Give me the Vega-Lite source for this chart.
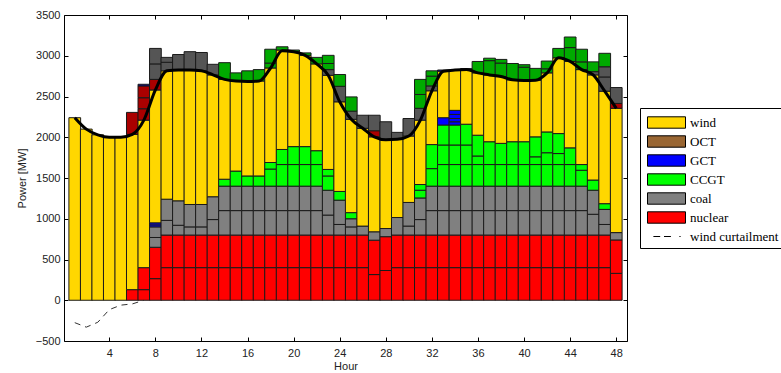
{
"$schema": "https://vega.github.io/schema/vega-lite/v6.json",
"width": 563, "height": 326,
"autosize": "none",
"padding": {"left": 64, "top": 15, "right": 154, "bottom": 32},
"config": {"view": {"stroke": "#000", "strokeWidth": 1}, "font": "Liberation Sans"},
"datasets": {
"gen": [
{"h":1,"t":"wind","lo":0,"hi":2240},
{"h":2,"t":"wind","lo":0,"hi":2100},
{"h":3,"t":"wind","lo":0,"hi":2030},
{"h":4,"t":"wind","lo":0,"hi":2000},
{"h":5,"t":"wind","lo":0,"hi":2000},
{"h":6,"t":"nuclear","lo":0,"hi":130},{"h":6,"t":"wind","lo":130,"hi":2035},{"h":6,"t":"nuclear reserve","lo":2035,"hi":2305},
{"h":7,"t":"nuclear","lo":0,"hi":130},{"h":7,"t":"nuclear","lo":130,"hi":400},{"h":7,"t":"wind","lo":400,"hi":2210},{"h":7,"t":"nuclear reserve","lo":2210,"hi":2350},{"h":7,"t":"nuclear reserve","lo":2350,"hi":2485},{"h":7,"t":"nuclear reserve","lo":2485,"hi":2630},{"h":7,"t":"GCT reserve","lo":2630,"hi":2650},
{"h":8,"t":"nuclear","lo":0,"hi":265},{"h":8,"t":"nuclear","lo":265,"hi":650},{"h":8,"t":"coal","lo":650,"hi":770},{"h":8,"t":"coal","lo":770,"hi":900},{"h":8,"t":"GCT","lo":900,"hi":925},{"h":8,"t":"GCT","lo":925,"hi":950},{"h":8,"t":"wind","lo":950,"hi":2580},{"h":8,"t":"nuclear reserve","lo":2580,"hi":2710},{"h":8,"t":"coal reserve","lo":2710,"hi":2900},{"h":8,"t":"coal reserve","lo":2900,"hi":3090},
{"h":9,"t":"nuclear","lo":0,"hi":400},{"h":9,"t":"nuclear","lo":400,"hi":800},{"h":9,"t":"coal","lo":800,"hi":980},{"h":9,"t":"coal","lo":980,"hi":1240},{"h":9,"t":"wind","lo":1240,"hi":2815},{"h":9,"t":"coal reserve","lo":2815,"hi":2920},{"h":9,"t":"coal reserve","lo":2920,"hi":2980},
{"h":10,"t":"nuclear","lo":0,"hi":400},{"h":10,"t":"nuclear","lo":400,"hi":800},{"h":10,"t":"coal","lo":800,"hi":920},{"h":10,"t":"coal","lo":920,"hi":1220},{"h":10,"t":"wind","lo":1220,"hi":2825},{"h":10,"t":"coal reserve","lo":2825,"hi":3015},
{"h":11,"t":"nuclear","lo":0,"hi":400},{"h":11,"t":"nuclear","lo":400,"hi":800},{"h":11,"t":"coal","lo":800,"hi":900},{"h":11,"t":"coal","lo":900,"hi":1175},{"h":11,"t":"wind","lo":1175,"hi":2825},{"h":11,"t":"coal reserve","lo":2825,"hi":3050},
{"h":12,"t":"nuclear","lo":0,"hi":400},{"h":12,"t":"nuclear","lo":400,"hi":800},{"h":12,"t":"coal","lo":800,"hi":900},{"h":12,"t":"coal","lo":900,"hi":1175},{"h":12,"t":"wind","lo":1175,"hi":2815},{"h":12,"t":"coal reserve","lo":2815,"hi":3040},
{"h":13,"t":"nuclear","lo":0,"hi":400},{"h":13,"t":"nuclear","lo":400,"hi":800},{"h":13,"t":"coal","lo":800,"hi":990},{"h":13,"t":"coal","lo":990,"hi":1270},{"h":13,"t":"wind","lo":1270,"hi":2765},{"h":13,"t":"coal reserve","lo":2765,"hi":2895},
{"h":14,"t":"nuclear","lo":0,"hi":400},{"h":14,"t":"nuclear","lo":400,"hi":800},{"h":14,"t":"coal","lo":800,"hi":1100},{"h":14,"t":"coal","lo":1100,"hi":1400},{"h":14,"t":"CCGT","lo":1400,"hi":1485},{"h":14,"t":"wind","lo":1485,"hi":2710},{"h":14,"t":"CCGT reserve","lo":2710,"hi":2915},
{"h":15,"t":"nuclear","lo":0,"hi":400},{"h":15,"t":"nuclear","lo":400,"hi":800},{"h":15,"t":"coal","lo":800,"hi":1100},{"h":15,"t":"coal","lo":1100,"hi":1400},{"h":15,"t":"CCGT","lo":1400,"hi":1585},{"h":15,"t":"wind","lo":1585,"hi":2690},{"h":15,"t":"CCGT reserve","lo":2690,"hi":2790},
{"h":16,"t":"nuclear","lo":0,"hi":400},{"h":16,"t":"nuclear","lo":400,"hi":800},{"h":16,"t":"coal","lo":800,"hi":1100},{"h":16,"t":"coal","lo":1100,"hi":1400},{"h":16,"t":"CCGT","lo":1400,"hi":1525},{"h":16,"t":"wind","lo":1525,"hi":2690},{"h":16,"t":"CCGT reserve","lo":2690,"hi":2815},
{"h":17,"t":"nuclear","lo":0,"hi":400},{"h":17,"t":"nuclear","lo":400,"hi":800},{"h":17,"t":"coal","lo":800,"hi":1100},{"h":17,"t":"coal","lo":1100,"hi":1400},{"h":17,"t":"CCGT","lo":1400,"hi":1525},{"h":17,"t":"wind","lo":1525,"hi":2690},{"h":17,"t":"CCGT reserve","lo":2690,"hi":2830},
{"h":18,"t":"nuclear","lo":0,"hi":400},{"h":18,"t":"nuclear","lo":400,"hi":800},{"h":18,"t":"coal","lo":800,"hi":1100},{"h":18,"t":"coal","lo":1100,"hi":1400},{"h":18,"t":"CCGT","lo":1400,"hi":1610},{"h":18,"t":"CCGT","lo":1610,"hi":1690},{"h":18,"t":"wind","lo":1690,"hi":2850},{"h":18,"t":"CCGT reserve","lo":2850,"hi":2910},{"h":18,"t":"CCGT reserve","lo":2910,"hi":3080},
{"h":19,"t":"nuclear","lo":0,"hi":400},{"h":19,"t":"nuclear","lo":400,"hi":800},{"h":19,"t":"coal","lo":800,"hi":1100},{"h":19,"t":"coal","lo":1100,"hi":1400},{"h":19,"t":"CCGT","lo":1400,"hi":1665},{"h":19,"t":"CCGT","lo":1665,"hi":1850},{"h":19,"t":"wind","lo":1850,"hi":3070},{"h":19,"t":"CCGT reserve","lo":3070,"hi":3110},
{"h":20,"t":"nuclear","lo":0,"hi":400},{"h":20,"t":"nuclear","lo":400,"hi":800},{"h":20,"t":"coal","lo":800,"hi":1100},{"h":20,"t":"coal","lo":1100,"hi":1400},{"h":20,"t":"CCGT","lo":1400,"hi":1665},{"h":20,"t":"CCGT","lo":1665,"hi":1885},{"h":20,"t":"wind","lo":1885,"hi":3050},{"h":20,"t":"CCGT reserve","lo":3050,"hi":3070},
{"h":21,"t":"nuclear","lo":0,"hi":400},{"h":21,"t":"nuclear","lo":400,"hi":800},{"h":21,"t":"coal","lo":800,"hi":1100},{"h":21,"t":"coal","lo":1100,"hi":1400},{"h":21,"t":"CCGT","lo":1400,"hi":1665},{"h":21,"t":"CCGT","lo":1665,"hi":1885},{"h":21,"t":"wind","lo":1885,"hi":3005},{"h":21,"t":"CCGT reserve","lo":3005,"hi":3035},
{"h":22,"t":"nuclear","lo":0,"hi":400},{"h":22,"t":"nuclear","lo":400,"hi":800},{"h":22,"t":"coal","lo":800,"hi":1100},{"h":22,"t":"coal","lo":1100,"hi":1400},{"h":22,"t":"CCGT","lo":1400,"hi":1665},{"h":22,"t":"CCGT","lo":1665,"hi":1835},{"h":22,"t":"wind","lo":1835,"hi":2900},{"h":22,"t":"CCGT reserve","lo":2900,"hi":2980},
{"h":23,"t":"nuclear","lo":0,"hi":400},{"h":23,"t":"nuclear","lo":400,"hi":800},{"h":23,"t":"coal","lo":800,"hi":1045},{"h":23,"t":"coal","lo":1045,"hi":1350},{"h":23,"t":"CCGT","lo":1350,"hi":1525},{"h":23,"t":"CCGT","lo":1525,"hi":1605},{"h":23,"t":"wind","lo":1605,"hi":2760},{"h":23,"t":"coal reserve","lo":2760,"hi":2830},{"h":23,"t":"CCGT reserve","lo":2830,"hi":2905},{"h":23,"t":"CCGT reserve","lo":2905,"hi":3005},
{"h":24,"t":"nuclear","lo":0,"hi":400},{"h":24,"t":"nuclear","lo":400,"hi":800},{"h":24,"t":"coal","lo":800,"hi":930},{"h":24,"t":"coal","lo":930,"hi":1228},{"h":24,"t":"CCGT","lo":1228,"hi":1335},{"h":24,"t":"wind","lo":1335,"hi":2435},{"h":24,"t":"coal reserve","lo":2435,"hi":2625},{"h":24,"t":"CCGT reserve","lo":2625,"hi":2770},
{"h":25,"t":"nuclear","lo":0,"hi":400},{"h":25,"t":"nuclear","lo":400,"hi":800},{"h":25,"t":"coal","lo":800,"hi":900},{"h":25,"t":"coal","lo":900,"hi":1000},{"h":25,"t":"CCGT","lo":1000,"hi":1075},{"h":25,"t":"wind","lo":1075,"hi":2220},{"h":25,"t":"coal reserve","lo":2220,"hi":2320},{"h":25,"t":"CCGT reserve","lo":2320,"hi":2495},
{"h":26,"t":"nuclear","lo":0,"hi":400},{"h":26,"t":"nuclear","lo":400,"hi":800},{"h":26,"t":"coal","lo":800,"hi":910},{"h":26,"t":"wind","lo":910,"hi":2110},{"h":26,"t":"coal reserve","lo":2110,"hi":2270},
{"h":27,"t":"nuclear","lo":0,"hi":315},{"h":27,"t":"nuclear","lo":315,"hi":737},{"h":27,"t":"coal","lo":737,"hi":840},{"h":27,"t":"wind","lo":840,"hi":2005},{"h":27,"t":"nuclear reserve","lo":2005,"hi":2080},{"h":27,"t":"coal reserve","lo":2080,"hi":2270},
{"h":28,"t":"nuclear","lo":0,"hi":365},{"h":28,"t":"nuclear","lo":365,"hi":780},{"h":28,"t":"coal","lo":780,"hi":880},{"h":28,"t":"wind","lo":880,"hi":1970},{"h":28,"t":"coal reserve","lo":1970,"hi":2190},
{"h":29,"t":"nuclear","lo":0,"hi":400},{"h":29,"t":"nuclear","lo":400,"hi":800},{"h":29,"t":"coal","lo":800,"hi":1015},{"h":29,"t":"wind","lo":1015,"hi":1975},{"h":29,"t":"coal reserve","lo":1975,"hi":2060},
{"h":30,"t":"nuclear","lo":0,"hi":400},{"h":30,"t":"nuclear","lo":400,"hi":800},{"h":30,"t":"coal","lo":800,"hi":910},{"h":30,"t":"coal","lo":910,"hi":1200},{"h":30,"t":"wind","lo":1200,"hi":2015},{"h":30,"t":"coal reserve","lo":2015,"hi":2230},
{"h":31,"t":"nuclear","lo":0,"hi":400},{"h":31,"t":"nuclear","lo":400,"hi":800},{"h":31,"t":"coal","lo":800,"hi":990},{"h":31,"t":"coal","lo":990,"hi":1255},{"h":31,"t":"CCGT","lo":1255,"hi":1350},{"h":31,"t":"CCGT","lo":1350,"hi":1420},{"h":31,"t":"wind","lo":1420,"hi":2210},{"h":31,"t":"coal reserve","lo":2210,"hi":2355},{"h":31,"t":"CCGT reserve","lo":2355,"hi":2525},{"h":31,"t":"CCGT reserve","lo":2525,"hi":2710},
{"h":32,"t":"nuclear","lo":0,"hi":400},{"h":32,"t":"nuclear","lo":400,"hi":800},{"h":32,"t":"coal","lo":800,"hi":1100},{"h":32,"t":"coal","lo":1100,"hi":1400},{"h":32,"t":"CCGT","lo":1400,"hi":1615},{"h":32,"t":"CCGT","lo":1615,"hi":1910},{"h":32,"t":"wind","lo":1910,"hi":2570},{"h":32,"t":"coal reserve","lo":2570,"hi":2630},{"h":32,"t":"CCGT reserve","lo":2630,"hi":2750},{"h":32,"t":"CCGT reserve","lo":2750,"hi":2815},
{"h":33,"t":"nuclear","lo":0,"hi":400},{"h":33,"t":"nuclear","lo":400,"hi":800},{"h":33,"t":"coal","lo":800,"hi":1100},{"h":33,"t":"coal","lo":1100,"hi":1400},{"h":33,"t":"CCGT","lo":1400,"hi":1665},{"h":33,"t":"CCGT","lo":1665,"hi":1905},{"h":33,"t":"CCGT","lo":1905,"hi":2150},{"h":33,"t":"GCT","lo":2150,"hi":2240},{"h":33,"t":"wind","lo":2240,"hi":2810},{"h":33,"t":"GCT reserve","lo":2810,"hi":2825},
{"h":34,"t":"nuclear","lo":0,"hi":400},{"h":34,"t":"nuclear","lo":400,"hi":800},{"h":34,"t":"coal","lo":800,"hi":1100},{"h":34,"t":"coal","lo":1100,"hi":1400},{"h":34,"t":"CCGT","lo":1400,"hi":1665},{"h":34,"t":"CCGT","lo":1665,"hi":1905},{"h":34,"t":"CCGT","lo":1905,"hi":2150},{"h":34,"t":"GCT","lo":2150,"hi":2190},{"h":34,"t":"GCT","lo":2190,"hi":2230},{"h":34,"t":"GCT","lo":2230,"hi":2280},{"h":34,"t":"GCT","lo":2280,"hi":2330},{"h":34,"t":"wind","lo":2330,"hi":2825},
{"h":35,"t":"nuclear","lo":0,"hi":400},{"h":35,"t":"nuclear","lo":400,"hi":800},{"h":35,"t":"coal","lo":800,"hi":1100},{"h":35,"t":"coal","lo":1100,"hi":1400},{"h":35,"t":"CCGT","lo":1400,"hi":1665},{"h":35,"t":"CCGT","lo":1665,"hi":1905},{"h":35,"t":"CCGT","lo":1905,"hi":2160},{"h":35,"t":"wind","lo":2160,"hi":2830},{"h":35,"t":"GCT reserve","lo":2830,"hi":2842},
{"h":36,"t":"nuclear","lo":0,"hi":400},{"h":36,"t":"nuclear","lo":400,"hi":800},{"h":36,"t":"coal","lo":800,"hi":1100},{"h":36,"t":"coal","lo":1100,"hi":1400},{"h":36,"t":"CCGT","lo":1400,"hi":1665},{"h":36,"t":"CCGT","lo":1665,"hi":1770},{"h":36,"t":"CCGT","lo":1770,"hi":2025},{"h":36,"t":"wind","lo":2025,"hi":2790},{"h":36,"t":"CCGT reserve","lo":2790,"hi":2930},
{"h":37,"t":"nuclear","lo":0,"hi":400},{"h":37,"t":"nuclear","lo":400,"hi":800},{"h":37,"t":"coal","lo":800,"hi":1100},{"h":37,"t":"coal","lo":1100,"hi":1400},{"h":37,"t":"CCGT","lo":1400,"hi":1665},{"h":37,"t":"CCGT","lo":1665,"hi":1945},{"h":37,"t":"wind","lo":1945,"hi":2765},{"h":37,"t":"CCGT reserve","lo":2765,"hi":2940},{"h":37,"t":"CCGT reserve","lo":2940,"hi":2970},
{"h":38,"t":"nuclear","lo":0,"hi":400},{"h":38,"t":"nuclear","lo":400,"hi":800},{"h":38,"t":"coal","lo":800,"hi":1100},{"h":38,"t":"coal","lo":1100,"hi":1400},{"h":38,"t":"CCGT","lo":1400,"hi":1665},{"h":38,"t":"CCGT","lo":1665,"hi":1925},{"h":38,"t":"wind","lo":1925,"hi":2745},{"h":38,"t":"CCGT reserve","lo":2745,"hi":2910},{"h":38,"t":"CCGT reserve","lo":2910,"hi":2955},
{"h":39,"t":"nuclear","lo":0,"hi":400},{"h":39,"t":"nuclear","lo":400,"hi":800},{"h":39,"t":"coal","lo":800,"hi":1100},{"h":39,"t":"coal","lo":1100,"hi":1400},{"h":39,"t":"CCGT","lo":1400,"hi":1665},{"h":39,"t":"CCGT","lo":1665,"hi":1945},{"h":39,"t":"wind","lo":1945,"hi":2705},{"h":39,"t":"CCGT reserve","lo":2705,"hi":2905},
{"h":40,"t":"nuclear","lo":0,"hi":400},{"h":40,"t":"nuclear","lo":400,"hi":800},{"h":40,"t":"coal","lo":800,"hi":1100},{"h":40,"t":"coal","lo":1100,"hi":1400},{"h":40,"t":"CCGT","lo":1400,"hi":1665},{"h":40,"t":"CCGT","lo":1665,"hi":1945},{"h":40,"t":"wind","lo":1945,"hi":2695},{"h":40,"t":"CCGT reserve","lo":2695,"hi":2860},{"h":40,"t":"CCGT reserve","lo":2860,"hi":2890},
{"h":41,"t":"nuclear","lo":0,"hi":400},{"h":41,"t":"nuclear","lo":400,"hi":800},{"h":41,"t":"coal","lo":800,"hi":1100},{"h":41,"t":"coal","lo":1100,"hi":1400},{"h":41,"t":"CCGT","lo":1400,"hi":1665},{"h":41,"t":"CCGT","lo":1665,"hi":1760},{"h":41,"t":"CCGT","lo":1760,"hi":2005},{"h":41,"t":"wind","lo":2005,"hi":2700},{"h":41,"t":"CCGT reserve","lo":2700,"hi":2845},
{"h":42,"t":"nuclear","lo":0,"hi":400},{"h":42,"t":"nuclear","lo":400,"hi":800},{"h":42,"t":"coal","lo":800,"hi":1100},{"h":42,"t":"coal","lo":1100,"hi":1400},{"h":42,"t":"CCGT","lo":1400,"hi":1665},{"h":42,"t":"CCGT","lo":1665,"hi":1810},{"h":42,"t":"CCGT","lo":1810,"hi":2065},{"h":42,"t":"wind","lo":2065,"hi":2790},{"h":42,"t":"CCGT reserve","lo":2790,"hi":2840},{"h":42,"t":"CCGT reserve","lo":2840,"hi":2935},
{"h":43,"t":"nuclear","lo":0,"hi":400},{"h":43,"t":"nuclear","lo":400,"hi":800},{"h":43,"t":"coal","lo":800,"hi":1100},{"h":43,"t":"coal","lo":1100,"hi":1400},{"h":43,"t":"CCGT","lo":1400,"hi":1665},{"h":43,"t":"CCGT","lo":1665,"hi":1800},{"h":43,"t":"CCGT","lo":1800,"hi":2045},{"h":43,"t":"wind","lo":2045,"hi":2975},{"h":43,"t":"CCGT reserve","lo":2975,"hi":3090},
{"h":44,"t":"nuclear","lo":0,"hi":400},{"h":44,"t":"nuclear","lo":400,"hi":800},{"h":44,"t":"coal","lo":800,"hi":1100},{"h":44,"t":"coal","lo":1100,"hi":1400},{"h":44,"t":"CCGT","lo":1400,"hi":1665},{"h":44,"t":"CCGT","lo":1665,"hi":1870},{"h":44,"t":"wind","lo":1870,"hi":2930},{"h":44,"t":"CCGT reserve","lo":2930,"hi":3100},{"h":44,"t":"CCGT reserve","lo":3100,"hi":3230},
{"h":45,"t":"nuclear","lo":0,"hi":400},{"h":45,"t":"nuclear","lo":400,"hi":800},{"h":45,"t":"coal","lo":800,"hi":1100},{"h":45,"t":"coal","lo":1100,"hi":1400},{"h":45,"t":"CCGT","lo":1400,"hi":1595},{"h":45,"t":"CCGT","lo":1595,"hi":1665},{"h":45,"t":"wind","lo":1665,"hi":2830},{"h":45,"t":"CCGT reserve","lo":2830,"hi":2925},{"h":45,"t":"CCGT reserve","lo":2925,"hi":3080},
{"h":46,"t":"nuclear","lo":0,"hi":400},{"h":46,"t":"nuclear","lo":400,"hi":800},{"h":46,"t":"coal","lo":800,"hi":1055},{"h":46,"t":"coal","lo":1055,"hi":1350},{"h":46,"t":"CCGT","lo":1350,"hi":1475},{"h":46,"t":"wind","lo":1475,"hi":2765},{"h":46,"t":"coal reserve","lo":2765,"hi":2805},{"h":46,"t":"CCGT reserve","lo":2805,"hi":2925},
{"h":47,"t":"nuclear","lo":0,"hi":400},{"h":47,"t":"nuclear","lo":400,"hi":800},{"h":47,"t":"coal","lo":800,"hi":930},{"h":47,"t":"coal","lo":930,"hi":1115},{"h":47,"t":"CCGT","lo":1115,"hi":1185},{"h":47,"t":"wind","lo":1185,"hi":2565},{"h":47,"t":"coal reserve","lo":2565,"hi":2740},{"h":47,"t":"coal reserve","lo":2740,"hi":2865},{"h":47,"t":"CCGT reserve","lo":2865,"hi":3030},
{"h":48,"t":"nuclear","lo":0,"hi":330},{"h":48,"t":"nuclear","lo":330,"hi":740},{"h":48,"t":"coal","lo":740,"hi":830},{"h":48,"t":"wind","lo":830,"hi":2355},{"h":48,"t":"nuclear reserve","lo":2355,"hi":2415},{"h":48,"t":"coal reserve","lo":2415,"hi":2610}
],
"dem": [
{"h":1,"v":2240},{"h":2,"v":2100},{"h":3,"v":2030},{"h":4,"v":2000},{"h":5,"v":2000},{"h":6,"v":2035},{"h":7,"v":2210},{"h":8,"v":2580},
{"h":9,"v":2815},{"h":10,"v":2825},{"h":11,"v":2825},{"h":12,"v":2815},{"h":13,"v":2765},{"h":14,"v":2710},{"h":15,"v":2690},{"h":16,"v":2685},
{"h":17,"v":2690},{"h":18,"v":2850},{"h":19,"v":3060},{"h":20,"v":3050},{"h":21,"v":3005},{"h":22,"v":2900},{"h":23,"v":2760},{"h":24,"v":2435},
{"h":25,"v":2220},{"h":26,"v":2110},{"h":27,"v":2005},{"h":28,"v":1970},{"h":29,"v":1975},{"h":30,"v":2015},{"h":31,"v":2210},{"h":32,"v":2570},
{"h":33,"v":2810},{"h":34,"v":2825},{"h":35,"v":2830},{"h":36,"v":2790},{"h":37,"v":2765},{"h":38,"v":2745},{"h":39,"v":2705},{"h":40,"v":2695},
{"h":41,"v":2700},{"h":42,"v":2790},{"h":43,"v":2975},{"h":44,"v":2930},{"h":45,"v":2830},{"h":46,"v":2765},{"h":47,"v":2565},{"h":48,"v":2355}
],
"cur": [
{"h":1,"v":-275},{"h":2,"v":-330},{"h":3,"v":-270},{"h":4,"v":-115},{"h":5,"v":-60},{"h":6,"v":-45},{"h":7,"v":0}
]
},
"layer": [
{
"data": {"name": "gen"},
"mark": {"type": "bar", "size": 11.73, "stroke": "#1a1a1a", "strokeWidth": 1},
"encoding": {
"x": {"field": "h", "type": "quantitative", "scale": {"domain": [0.5, 48.5], "nice": false, "zero": false},
"axis": {"values": [4,8,12,16,20,24,28,32,36,40,44,48], "title": "Hour", "domain": false, "grid": false, "tickSize": -4, "tickColor": "#000", "labelPadding": 10, "labelFontSize": 11, "labelColor": "#222", "titleFontSize": 11, "titleFontWeight": "normal", "titleColor": "#222", "titlePadding": 2}},
"y": {"field": "lo", "type": "quantitative", "scale": {"domain": [-500, 3500], "nice": false, "zero": false},
"axis": {"values": [-500,0,500,1000,1500,2000,2500,3000,3500], "format": "d", "title": "Power [MW]", "domain": false, "grid": false, "tickSize": -4, "tickColor": "#000", "labelPadding": 8, "labelFontSize": 11, "labelColor": "#222", "titleFontSize": 11, "titleFontWeight": "normal", "titleColor": "#222", "titlePadding": 8}},
"y2": {"field": "hi"},
"color": {"field": "t", "type": "nominal",
"scale": {"domain": ["wind","OCT","GCT","CCGT","coal","nuclear","wind curtailment","nuclear reserve","coal reserve","CCGT reserve","GCT reserve"],
"range": ["#FFD700","#996633","#0000FF","#00FF00","#808080","#FF0000","#000000","#AA0000","#555555","#00AA00","#0000AA"]},
"legend": {"orient": "none", "legendX": 576, "legendY": 93, "title": null,
"values": ["wind","OCT","GCT","CCGT","coal","nuclear","wind curtailment"],
"symbolType": "M-1.9,-0.57H1.9V0.57H-1.9Z", "symbolSize": 400, "symbolOffset": 12, "symbolStrokeColor": "#000", "symbolStrokeWidth": 1, "symbolOpacity": 1,
"labelFont": "Liberation Serif", "labelFontSize": 13, "labelColor": "#000", "labelOffset": 13, "rowPadding": 0, "padding": 4,
"strokeColor": "#000", "fillColor": "#fff", "cornerRadius": 0,
"encode": {"symbols": {"update": {"shape": {"signal": "datum.value === 'wind curtailment' ? 'M-1.31,0H-0.63M-0.25,0H0.44M1.29,0H1.41' : 'M-1.9,-0.57H1.9V0.57H-1.9Z'"}}}}}
}
}
},
{
"data": {"name": "cur"},
"mark": {"type": "line", "color": "#333", "strokeWidth": 1, "strokeDash": [6, 5]},
"encoding": {
"x": {"field": "h", "type": "quantitative", "axis": null},
"y": {"field": "v", "type": "quantitative", "axis": null}
}
},
{
"data": {"name": "dem"},
"mark": {"type": "line", "color": "#000", "strokeWidth": 3, "interpolate": "monotone"},
"encoding": {
"x": {"field": "h", "type": "quantitative", "axis": {"orient": "top", "values": [4,8,12,16,20,24,28,32,36,40,44,48], "labels": false, "title": null, "domain": false, "grid": false, "tickSize": -4, "tickColor": "#000"}},
"y": {"field": "v", "type": "quantitative", "axis": {"orient": "right", "values": [-500,0,500,1000,1500,2000,2500,3000,3500], "labels": false, "title": null, "domain": false, "grid": false, "tickSize": -4, "tickColor": "#000"}}
}
}
],
"resolve": {"axis": {"x": "independent", "y": "independent"}}
}
